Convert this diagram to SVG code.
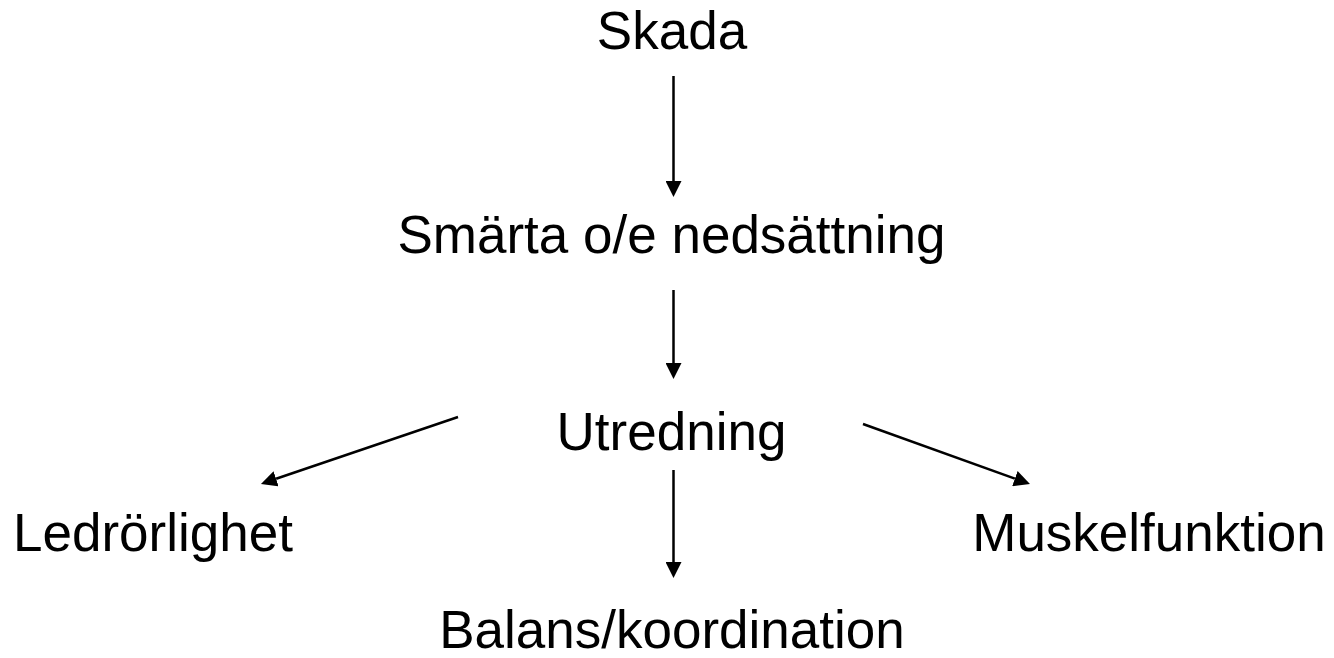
<svg xmlns="http://www.w3.org/2000/svg" width="1334" height="658" viewBox="0 0 1334 658">
<style>
text { font-family: "Liberation Sans", Arial, sans-serif; font-size: 53px; fill: #000; text-anchor: middle; }
.c { stroke: #000; stroke-width: 2.5; fill: none; marker-end: url(#ah); }
</style>
<defs>
<marker id="ah" markerUnits="userSpaceOnUse" markerWidth="16" markerHeight="16" viewBox="0 -8 16 16" refX="0" refY="0" orient="auto">
<path d="M0,-8 L16,0 L0,8 z" fill="#000"/>
</marker>
</defs>
<rect width="1334" height="658" fill="#fff"/>
<g id="connectors">
<line class="c" x1="673.5" y1="76" x2="673.5" y2="181"/>
<line class="c" x1="673.5" y1="290" x2="673.5" y2="363"/>
<line class="c" x1="673.5" y1="470" x2="673.5" y2="562"/>
<line class="c" x1="458" y1="417" x2="276.1" y2="478.8"/>
<line class="c" x1="863" y1="424" x2="1014.9" y2="478.6"/>
</g>
<g id="skada"><text x="672" y="49">Skada</text></g>
<g id="smarta"><text x="671.5" y="253">Smärta o/e nedsättning</text></g>
<g id="utredning"><text x="671.5" y="450">Utredning</text></g>
<g id="ledrorlighet"><text x="153" y="551">Ledrörlighet</text></g>
<g id="muskelfunktion"><text x="1149" y="551">Muskelfunktion</text></g>
<g id="balans"><text x="672" y="648">Balans/koordination</text></g>
</svg>
